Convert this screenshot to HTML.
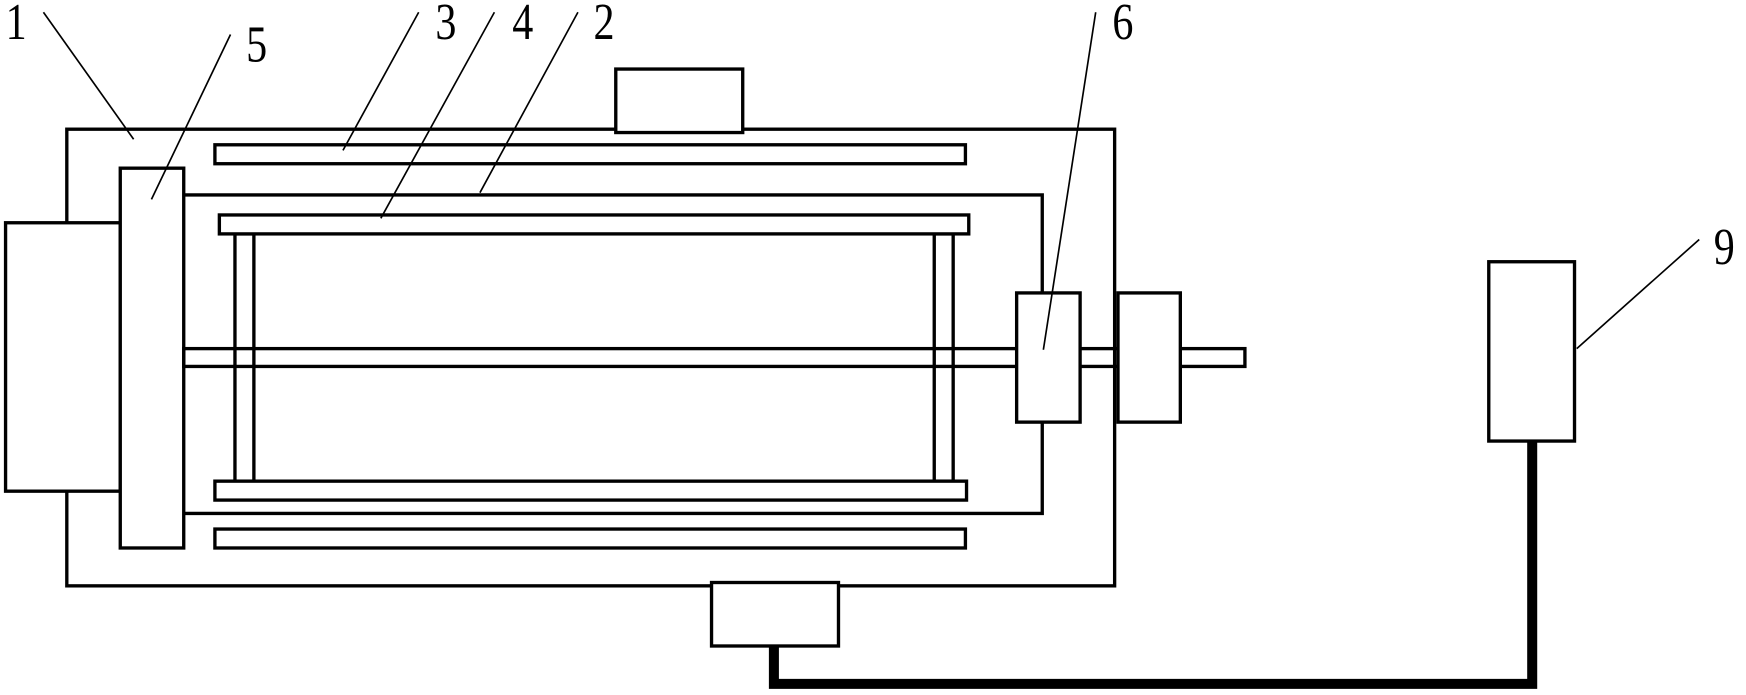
<!DOCTYPE html>
<html><head><style>html,body{margin:0;padding:0;background:#fff}svg{display:block}</style></head>
<body>
<svg width="1746" height="695" viewBox="0 0 1568 624" preserveAspectRatio="none" xmlns="http://www.w3.org/2000/svg">
<g fill="none" stroke="#000" stroke-width="3">
<rect x="60" y="116" width="941" height="410"/>
<rect x="553" y="62" width="114" height="57" fill="#fff"/>
<rect x="5" y="200" width="103" height="241" fill="#fff"/>
<rect x="108" y="151" width="57" height="341" fill="#fff"/>
<rect x="193" y="130" width="674" height="17"/>
<rect x="193" y="475" width="674" height="17"/>
<polyline points="165,175 936,175 936,263"/>
<polyline points="936,379 936,461 165,461"/>
<rect x="211" y="210" width="17" height="222"/>
<rect x="839" y="210" width="17" height="222"/>
<rect x="197" y="193" width="673" height="17" fill="#fff"/>
<rect x="193" y="432" width="675" height="17" fill="#fff"/>
<rect x="165" y="313" width="953" height="16"/>
<rect x="913" y="263" width="57" height="116" fill="#fff"/>
<rect x="1004" y="263" width="56" height="116" fill="#fff"/>
<rect x="639" y="523" width="114" height="57" fill="#fff"/>
<rect x="1337" y="235" width="77" height="161" fill="#fff"/>
</g>
<polyline points="695,580 695,614 1376,614 1376,396" fill="none" stroke="#000" stroke-width="9"/>
<g stroke="#000" stroke-width="1.5">
<line x1="39" y1="11" x2="120" y2="125"/>
<line x1="207" y1="31" x2="136" y2="179"/>
<line x1="376" y1="11" x2="308" y2="135"/>
<line x1="444" y1="11" x2="342" y2="196"/>
<line x1="519" y1="11" x2="431" y2="173"/>
<line x1="984" y1="11" x2="937" y2="314"/>
<line x1="1526" y1="215" x2="1416" y2="313"/>
</g>
<g font-family="Liberation Serif, serif" font-size="42" fill="#000">
<text transform="translate(5,35) scale(0.9,1.1)">1</text>
<text transform="translate(221,55) scale(0.9,1.1)">5</text>
<text transform="translate(391,35) scale(0.9,1.1)">3</text>
<text transform="translate(460,35) scale(0.9,1.1)">4</text>
<text transform="translate(533,35) scale(0.9,1.1)">2</text>
<text transform="translate(999,35) scale(0.9,1.1)">6</text>
<text transform="translate(1539,237) scale(0.9,1.1)">9</text>
</g>
</svg>
</body></html>
